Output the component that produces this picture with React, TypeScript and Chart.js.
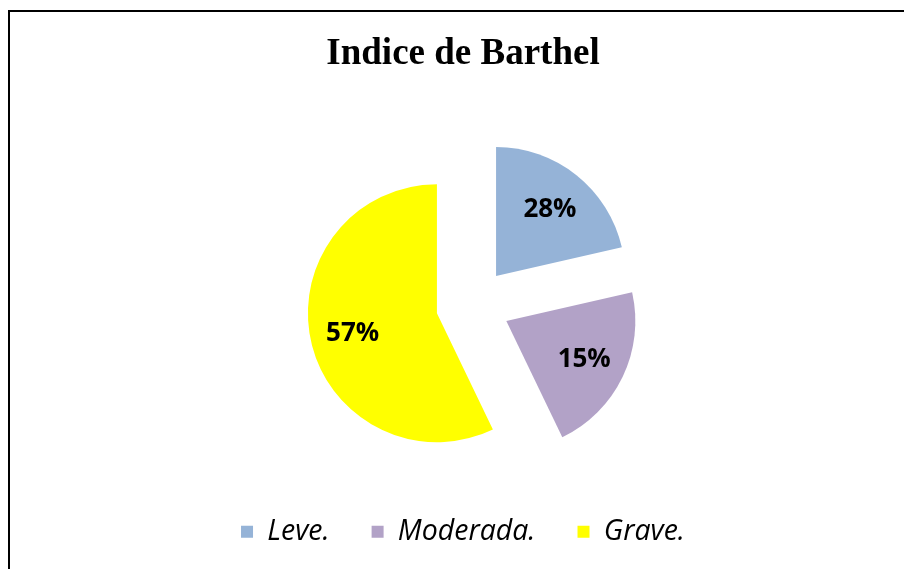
import React, { useEffect, useRef } from "react";
import { Chart, registerables } from "chart.js";

Chart.register(...registerables);

const categories = ["Leve.", "Moderada.", "Grave."];
const values = [3, 3, 8];
const labelTexts = ["28%", "15%", "57%"];
const colors = ["#95B3D7", "#B2A2C7", "#FFFF00"];
const title = "Indice de Barthel";

const EXPLODE = 37;
const LABEL_POS = 0.67;

// Draws every slice as an exploded wedge (pushed out along its middle angle,
// keeping its radius and angle), using the geometry Chart.js computed.
const explodedSlices = {
  id: "explodedSlices",
  beforeDatasetDraw(chart: any, args: any) {
    const ctx = chart.ctx;
    const meta = args.meta;
    ctx.save();
    meta.data.forEach((arc: any) => {
      const p = arc.getProps(["x", "y", "startAngle", "endAngle", "outerRadius"], true);
      const mid = (p.startAngle + p.endAngle) / 2;
      const cx = p.x + Math.cos(mid) * EXPLODE;
      const cy = p.y + Math.sin(mid) * EXPLODE;
      ctx.beginPath();
      ctx.moveTo(cx, cy);
      ctx.arc(cx, cy, p.outerRadius, p.startAngle, p.endAngle);
      ctx.closePath();
      ctx.fillStyle = arc.options.backgroundColor;
      ctx.fill();
    });
    ctx.restore();
    return false;
  },
  afterDatasetsDraw(chart: any) {
    const ctx = chart.ctx;
    const meta = chart.getDatasetMeta(0);
    ctx.save();
    ctx.font = "bold 26px 'Open Sans'";
    ctx.fillStyle = "#000";
    ctx.textAlign = "center";
    ctx.textBaseline = "middle";
    meta.data.forEach((arc: any, i: number) => {
      const p = arc.getProps(["x", "y", "startAngle", "endAngle", "outerRadius"], true);
      const mid = (p.startAngle + p.endAngle) / 2;
      const d = EXPLODE + p.outerRadius * LABEL_POS;
      ctx.fillText(labelTexts[i], p.x + Math.cos(mid) * d, p.y + Math.sin(mid) * d + 1);
    });
    ctx.restore();
  },
};

const shiftPie = {
  id: "shiftPie",
  afterLayout(chart: any) {
    chart.chartArea.left += 20;
    chart.chartArea.width = chart.chartArea.right - chart.chartArea.left;
  },
};

export default function App() {
  const ref = useRef<HTMLCanvasElement>(null);
  useEffect(() => {
    const chart = new Chart(ref.current!, {
      type: "pie",
      data: {
        labels: categories,
        datasets: [
          {
            data: values,
            backgroundColor: colors,
            borderWidth: 0,
            clip: false,
          } as any,
        ],
      },
      options: {
        animation: false,
        responsive: false,
        radius: 129,
        layout: { padding: { left: 22, right: 0, top: 0, bottom: 13 } },
        plugins: {
          title: {
            display: true,
            text: title,
            color: "#000",
            font: { family: "'Liberation Serif'", size: 37, weight: "bold" },
            padding: { top: 32, bottom: 58 },
          },
          legend: {
            position: "bottom",
            labels: {
              color: "#000",
              font: { family: "'Open Sans'", size: 28.5, style: "italic" },
              boxWidth: 12,
              boxHeight: 12,
              padding: 42,
            },
          },
          tooltip: { enabled: false },
        },
      } as any,
      plugins: [explodedSlices, shiftPie],
    });
    return () => chart.destroy();
  }, []);
  return (
    <div>
      <div
        style={{
          position: "fixed",
          left: 8,
          top: 10,
          width: 1200,
          height: 1200,
          borderLeft: "2px solid #000",
          borderTop: "2px solid #000",
          pointerEvents: "none",
        }}
      />
      <canvas
        ref={ref}
        width={904}
        height={569}
        style={{ position: "fixed", left: 0, top: 0, width: 904, height: 569 }}
      />
    </div>
  );
}
